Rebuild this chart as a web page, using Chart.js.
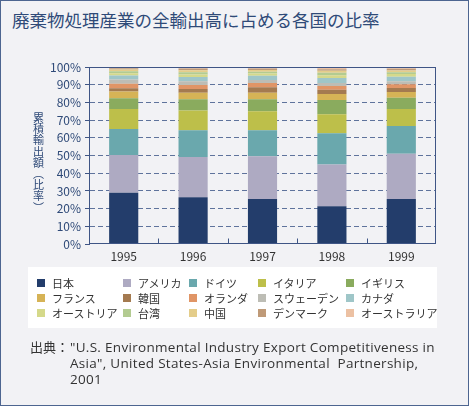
<!DOCTYPE html>
<html>
<head>
<meta charset="utf-8">
<script src="https://cdn.jsdelivr.net/npm/chart.js@4/dist/chart.umd.min.js"></script>
<style>
    body { margin: 0; background: #f2f2f5; }
    #frame {
        position: relative; width: 467px; height: 404px;
        border: 1px solid #4d6590; background: #f2f2f5; overflow: hidden;
        font-family: "Noto Sans CJK JP", sans-serif;
    }
    #title {
        position: absolute; left: 11px; top: 6px;
        font-size: 17.5px; color: #2f4a78; white-space: nowrap;
    }
    #chartBox { position: absolute; left: -1px; top: 55px; width: 469px; height: 214px; }
    #yTitle { position: absolute; left: 31px; top: 111px; width: 13px; }
    #yTitle span {
        display: block; text-align: center;
        font-size: 11px; line-height: 11.2px; height: 11.2px; color: #2f4a78;
    }
    #legend {
        position: absolute; left: 27px; top: 266px; width: 409px; height: 61px;
        background: #fff;
    }
    .item { position: absolute; font-size: 11px; color: #333; white-space: nowrap; line-height: 14px; }
    .item i { position: absolute; left: 0; top: 3px; width: 8px; height: 8px; }
    .item span { position: absolute; left: 15px; top: 0; }
    .src { position: absolute; top: 338px; font-size: 13px; line-height: 16px; color: #333; white-space: pre; }
    #srcLabel { left: 29px; }
    #srcText { left: 69px; font-size: 13.5px; letter-spacing: 0.3px; font-family: "Open Sans", "Noto Sans CJK JP", sans-serif; }
</style>
</head>
<body>
<div id="frame">
    <div id="title">廃棄物処理産業の全輸出高に占める各国の比率</div>
    <div id="chartBox"><canvas id="chart" width="469" height="214"></canvas></div>
    <div id="yTitle"></div>
    <div id="legend"></div>
    <div class="src" id="srcLabel">出典：</div>
    <div class="src" id="srcText">"U.S. Environmental Industry Export Competitiveness in
Asia", United States-Asia Environmental  Partnership,
2001</div>
</div>
<script>
const years = ['1995', '1996', '1997', '1998', '1999'];
const countries = ['日本', 'アメリカ', 'ドイツ', 'イタリア', 'イギリス',
    'フランス', '韓国', 'オランダ', 'スウェーデン', 'カナダ',
    'オーストリア', '台湾', '中国', 'デンマーク', 'オーストラリア'];
const colors = ['#233d6b', '#aeaac2', '#6aa8ad', '#bdbf4a', '#8aab5e',
    '#d6b356', '#a47a50', '#e09566', '#bdbdb5', '#9fc6c8',
    '#d5d98a', '#b3cb91', '#e4cd8a', '#bf9a78', '#ecc1a3'];

// share of total exports, %
const japan       = [29.0, 26.4, 25.4, 21.3, 25.4];
const usa         = [21.3, 22.8, 24.3, 23.7, 25.6];
const germany     = [14.7, 15.2, 14.7, 17.7, 15.8];
const italy       = [11.4, 11.1, 10.7, 10.7, 9.6];
const uk          = [6.1, 6.4, 6.8, 8.1, 6.3];
const france      = [3.8, 3.6, 3.6, 3.4, 3.3];
const korea       = [1.8, 2.1, 3.2, 2.3, 2.3];
const netherlands = [2.5, 2.4, 2.4, 2.1, 2.1];
const sweden      = [2.4, 2.0, 1.6, 1.8, 1.7];
const canada      = [2.3, 2.4, 2.4, 2.8, 2.5];
const austria     = [1.3, 1.5, 1.3, 1.6, 1.5];
const taiwan      = [1.1, 1.3, 1.0, 1.3, 1.0];
const china       = [1.0, 1.1, 1.0, 1.2, 1.1];
const denmark     = [0.7, 1.0, 0.8, 0.9, 0.9];
const australia   = [0.6, 0.7, 0.8, 1.1, 0.9];

const yTicks = [0, 10, 20, 30, 40, 50, 60, 70, 80, 90, 100];

const series = [japan, usa, germany, italy, uk, france, korea, netherlands,
    sweden, canada, austria, taiwan, china, denmark, australia];

// vertical axis title, one character per line (vertical-form brackets)
const yTitle = document.getElementById('yTitle');
yTitle.innerHTML = [...'累積輸出額︵比率︶'].map(ch => `<span>${ch}</span>`).join('');

// legend: 5 columns x 3 rows
const legendCols = [9, 95, 161, 230, 318];
const legendRows = [9, 24, 39];
const legend = document.getElementById('legend');
countries.forEach((name, i) => {
    const div = document.createElement('div');
    div.className = 'item';
    div.style.left = legendCols[i % 5] + 'px';
    div.style.top = legendRows[Math.floor(i / 5)] + 'px';
    div.innerHTML = `<i style="background:${colors[i]}"></i><span>${name}</span>`;
    legend.appendChild(div);
});

const frameLines = {
    id: 'frameLines',
    afterDatasetsDraw(chart) {
        const { ctx, chartArea: a, scales: { x } } = chart;
        ctx.save();
        ctx.strokeStyle = '#3f5585';
        ctx.lineWidth = 1;
        const l = Math.round(a.left) + 0.5, r = Math.round(a.right) - 0.5;
        const t = Math.round(a.top) + 0.5, b = Math.round(a.bottom) - 0.5;
        ctx.strokeRect(l, t, r - l, b - t);
        // short inward ticks between the years
        ctx.beginPath();
        for (let i = 1; i < years.length; i++) {
            const px = Math.round((x.getPixelForValue(i - 1) + x.getPixelForValue(i)) / 2) + 0.5;
            ctx.moveTo(px, b);
            ctx.lineTo(px, b - 5);
        }
        ctx.stroke();
        ctx.restore();
    }
};

new Chart(document.getElementById('chart'), {
    type: 'bar',
    data: {
        labels: years,
        datasets: series.map((data, i) => ({
            label: countries[i],
            data,
            backgroundColor: colors[i],
            borderWidth: 0,
            barPercentage: 0.84,
            categoryPercentage: 0.5
        }))
    },
    options: {
        responsive: false,
        animation: false,
        layout: { padding: { left: 0, right: 33, top: 2, bottom: 0 } },
        plugins: { legend: { display: false }, tooltip: { enabled: false } },
        scales: {
            x: {
                stacked: true,
                grid: { display: false, drawTicks: false },
                border: { display: false },
                ticks: {
                    color: '#333', padding: 5,
                    font: { family: '"Noto Sans CJK JP", sans-serif', size: 12 }
                },
                afterFit: s => { s.height = 26; }
            },
            y: {
                stacked: true,
                min: 0, max: 100,
                afterBuildTicks: s => { s.ticks = yTicks.map(v => ({ value: v })); },
                grid: {
                    color: c => (c.tick.value === 0 || c.tick.value === 100) ? 'transparent' : '#5f739c',
                    tickColor: '#3f5585',
                    tickLength: 4
                },
                border: { display: true, color: '#3f5585', dash: [5, 3] },
                ticks: {
                    color: '#2f4a78', padding: 4, autoSkip: false,
                    font: { family: '"Noto Sans CJK JP", sans-serif', size: 12 },
                    callback: v => v + '%'
                },
                afterFit: s => { s.width = 89; }
            }
        }
    },
    plugins: [frameLines]
});
</script>
</body>
</html>
